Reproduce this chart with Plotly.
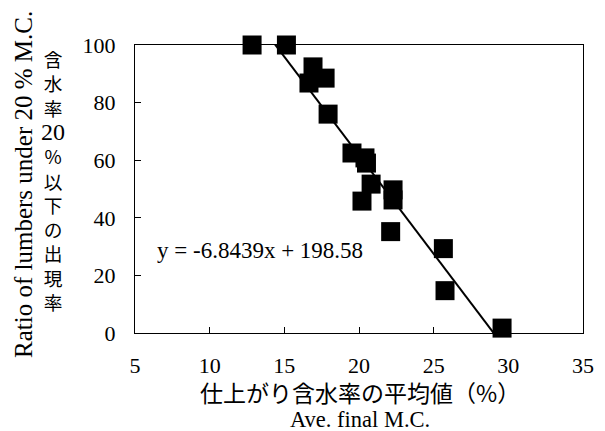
import plotly.graph_objects as go

# ---- data ----
final_mc = [12.84, 15.14, 16.92, 17.73, 16.65, 17.93, 19.53, 20.40, 20.50,
            20.81, 20.20, 22.28, 22.28, 22.12, 25.65, 25.76, 29.58]
ratio_under_20 = [100.0, 100.0, 92.4, 88.5, 86.8, 76.0, 62.5, 60.8, 59.0,
                  51.7, 45.8, 49.7, 46.2, 35.2, 29.3, 14.7, 1.7]
slope = -6.8439
intercept = 198.58
x_ticks = [5, 10, 15, 20, 25, 30, 35]
y_ticks = [0, 20, 40, 60, 80, 100]
equation_text = "y = -6.8439x + 198.58"
y_title_en = "Ratio of lumbers under 20 % M.C."
y_title_jp = ["含", "水", "率", "20", "%", "以", "下", "の", "出", "現", "率"]
x_title_jp = "仕上がり含水率の平均値（%）"
x_title_en = "Ave. final M.C."

W, H = 605, 431
L, R, T, B = 135, 583, 45, 333  # plot area in pixels

def px(xp):
    return (xp - L) / (R - L)

def py(yp):
    return (B - yp) / (B - T)

SERIF = "Liberation Serif, Times New Roman, serif"
CJK = "Noto Sans CJK JP, sans-serif"

trend_x = [min(final_mc), max(final_mc)]
trend_y = [slope * v + intercept for v in trend_x]

fig = go.Figure()
fig.add_trace(go.Scatter(x=trend_x, y=trend_y, mode="lines",
                         line=dict(color="black", width=2),
                         showlegend=False, hoverinfo="skip"))
fig.add_trace(go.Scatter(x=final_mc, y=ratio_under_20, mode="markers",
                         marker=dict(symbol="square", size=19, color="black"),
                         cliponaxis=False, showlegend=False))

# vertical Japanese title: one stacked annotation, digits in serif
jp_lines = []
for ch in y_title_jp:
    if ch == "20":
        jp_lines.append("<span style='font-family:Liberation Serif;"
                        "font-size:24px'>" + ch + "</span>")
    else:
        jp_lines.append(ch)
jp_vertical = "<br>".join(jp_lines)

annotations = [
    dict(text=equation_text, x=px(260), y=py(250), xref="paper", yref="paper",
         showarrow=False, font=dict(family=SERIF, size=23, color="black"),
         xanchor="center", yanchor="middle"),
    dict(text=y_title_en, x=px(23), y=py(185), xref="paper", yref="paper",
         showarrow=False, textangle=-90,
         font=dict(family=SERIF, size=25, color="black"),
         xanchor="center", yanchor="middle"),
    dict(text=jp_vertical, x=px(53), y=py(180), xref="paper", yref="paper",
         showarrow=False, font=dict(family=CJK, size=18.7, color="black"),
         xanchor="center", yanchor="middle", align="center", borderpad=0),
    dict(text=x_title_jp, x=px(360), y=py(392), xref="paper", yref="paper",
         showarrow=False, font=dict(family=CJK, size=23, color="black"),
         xanchor="center", yanchor="middle", borderpad=0),
    dict(text=x_title_en, x=px(360), y=py(419.5), xref="paper", yref="paper",
         showarrow=False, font=dict(family=SERIF, size=22.5, color="black"),
         xanchor="center", yanchor="middle", borderpad=0),
]

fig.update_layout(
    width=W, height=H,
    margin=dict(l=L, r=W - R, t=T, b=H - B, autoexpand=False),
    paper_bgcolor="white", plot_bgcolor="white",
    font=dict(family=SERIF, size=22, color="black"),
    annotations=annotations,
    xaxis=dict(range=[5, 35], tickvals=x_ticks, ticks="inside", ticklen=6,
               tickwidth=1.2, tickcolor="black", showline=True,
               linecolor="black", linewidth=1.3, mirror=True, showgrid=False,
               zeroline=False, ticklabelstandoff=12, automargin=False,
               tickfont=dict(family=SERIF, size=22, color="black")),
    yaxis=dict(range=[0, 100], tickvals=y_ticks, ticks="inside", ticklen=6,
               tickwidth=1.2, tickcolor="black", showline=True,
               linecolor="black", linewidth=1.3, mirror=True, showgrid=False,
               zeroline=False, ticklabelstandoff=14, automargin=False,
               tickfont=dict(family=SERIF, size=22, color="black")),
)

fig.write_html(
    "out.html",
    config={"displayModeBar": False},
    post_script="document.body.style.margin='0px';"
                "document.body.style.overflow='hidden';",
)
